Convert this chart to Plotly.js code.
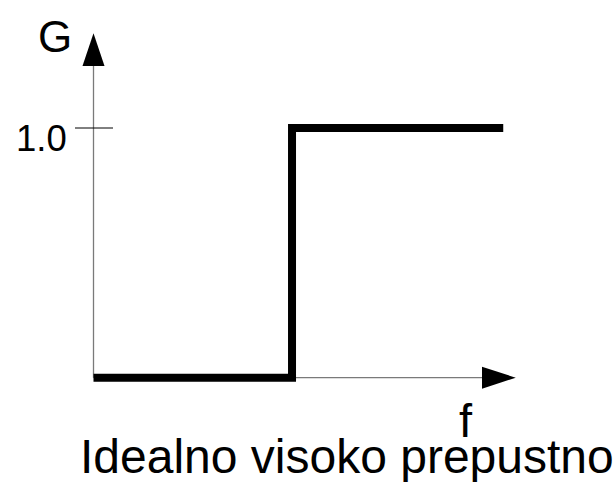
<!DOCTYPE html>
<html>
<head>
<meta charset="utf-8">
<script src="https://cdn.plot.ly/plotly-3.0.1.min.js"></script>
<style>html,body{margin:0;padding:0;background:#fff;}#chart{width:616px;height:482px;}</style>
</head>
<body>
<div id="chart"></div>
<script>
// Ideal high-pass filter: frequency normalised to the cutoff (fc = 1)
const freq = [0, 1, 1, 2.064];
const gain = [0, 0, 1, 1];
const yTickVals = [1];
const yTickText = ['1.0'];
const xAxisLabel = 'f';
const yAxisLabel = 'G';
const chartTitle = 'Idealno visoko prepustno';

const W = 616, H = 482;
const xRange = [-0.471, 2.632];
const yRange = [-0.4177, 1.5126];
const pxX = (xRange[1] - xRange[0]) / W;   // data units per pixel
const pxY = (yRange[1] - yRange[0]) / H;

const FONT = '"Liberation Sans", Arial, sans-serif';
const axisColor = '#7a7a7a';

const xArrowBase = 1.957, xArrowTip = 2.127;
const yArrowBase = 1.248, yArrowTip = 1.379;
const headHalfX = 11 * pxX, headHalfY = 11 * pxY;

const shapes = [
  {type: 'line', xref: 'x', yref: 'y', x0: 0, x1: xArrowBase, y0: 0, y1: 0,
   line: {color: axisColor, width: 1.3}, layer: 'below'},
  {type: 'line', xref: 'x', yref: 'y', x0: 0, x1: 0, y0: 0, y1: yArrowBase,
   line: {color: axisColor, width: 1.3}, layer: 'below'},
  {type: 'path', xref: 'x', yref: 'y',
   path: `M ${xArrowBase} ${-headHalfY} L ${xArrowTip} 0 L ${xArrowBase} ${headHalfY} Z`,
   fillcolor: '#000', line: {width: 0}},
  {type: 'path', xref: 'x', yref: 'y',
   path: `M ${-headHalfX} ${yArrowBase} L 0 ${yArrowTip} L ${headHalfX} ${yArrowBase} Z`,
   fillcolor: '#000', line: {width: 0}}
];
yTickVals.forEach(v => shapes.push({
  type: 'line', xref: 'x', yref: 'y', x0: -0.0932, x1: 0.0982, y0: v, y1: v,
  line: {color: '#000', width: 1}, layer: 'below'
}));

const annotations = [
  {xref: 'x', yref: 'y', x: -0.193, y: yArrowTip, yshift: -3, text: yAxisLabel,
   showarrow: false, xanchor: 'center', yanchor: 'middle',
   font: {family: FONT, size: 44, color: '#000'}},
  {xref: 'x', yref: 'y', x: 1.874, y: 0, yshift: -42.7, text: xAxisLabel,
   showarrow: false, xanchor: 'center', yanchor: 'middle',
   font: {family: FONT, size: 47, color: '#000'}},
  {xref: 'paper', yref: 'paper', x: 347 / W, y: 1 - 456.4 / H, text: chartTitle,
   showarrow: false, xanchor: 'center', yanchor: 'middle',
   font: {family: FONT, size: 48, color: '#000'}}
];
yTickVals.forEach((v, i) => annotations.push({
  xref: 'x', yref: 'y', x: -0.125, y: v, yshift: -10.3, text: yTickText[i],
  showarrow: false, xanchor: 'right', yanchor: 'middle',
  font: {family: FONT, size: 36.5, color: '#000'}
}));

const trace = {
  x: freq, y: gain, type: 'scatter', mode: 'lines',
  line: {color: '#000', width: 8, shape: 'linear'},
  hoverinfo: 'skip'
};

const layout = {
  width: W, height: H,
  margin: {l: 0, r: 0, t: 0, b: 0, pad: 0},
  paper_bgcolor: '#fff', plot_bgcolor: '#fff',
  showlegend: false,
  xaxis: {range: xRange, visible: false, fixedrange: true},
  yaxis: {range: yRange, visible: false, fixedrange: true},
  shapes: shapes,
  annotations: annotations
};

Plotly.newPlot('chart', [trace], layout, {staticPlot: true, displayModeBar: false});
</script>
</body>
</html>
